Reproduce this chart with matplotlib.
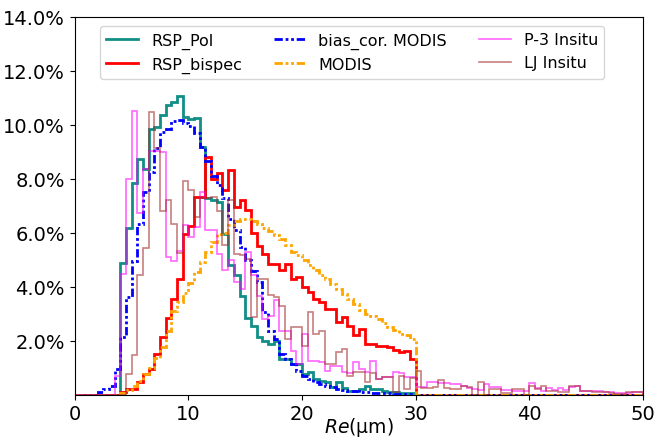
import numpy as np
import matplotlib
matplotlib.use("Agg")
import matplotlib.pyplot as plt
from matplotlib.ticker import FuncFormatter

# bin edges (0.5 um bins, 0 - 50 um)
edges = np.arange(0, 50.5, 0.5)

# frequency (%) per bin, each list starts at the given Re
rsp_pol_start = 4.0
rsp_pol = [4.89, 6.19, 7.83, 8.75, 8.35, 9.85, 9.93, 10.36, 10.74, 10.86,
           11.08, 10.28, 10.22, 10.24, 9.19, 7.27, 7.2, 7.14, 5.97, 4.79,
           4.44, 3.64, 2.85, 2.56, 2.13, 2.0, 1.88, 2.0, 1.32, 1.32,
           1.13, 1.13, 0.75, 0.82, 0.58, 0.51, 0.45, 0.27, 0.48, 0.24,
           0.14, 0.14, 0.2, 0.33, 0.2, 0.2, 0.12, 0.1, 0.08, 0.06,
           0.05, 0.05]

rsp_bispec_start = 4.0
rsp_bispec = [0.1, 0.2, 0.2, 0.45, 0.76, 0.95, 1.5, 2.15, 2.85, 3.55,
              4.3, 5.97, 6.25, 7.33, 7.33, 8.79, 8.01, 8.2, 7.6, 8.32,
              6.96, 7.2, 6.85, 6.0, 5.5, 5.2, 4.85, 4.85, 4.6, 4.85,
              4.29, 4.36, 3.98, 3.8, 3.55, 3.43, 3.18, 3.18, 2.68, 2.87,
              2.56, 2.19, 2.43, 1.88, 1.88, 1.79, 1.81, 1.75, 1.67, 1.57,
              1.6, 1.32]

bias_modis_start = 2.0
bias_modis = [0.08, 0.2, 0.33, 0.95, 2.13, 3.61, 4.94, 6.31, 7.52, 8.26,
              9.13, 9.75, 9.85, 10.14, 10.18, 10.08, 9.95, 9.68, 9.17, 8.67,
              8.1, 7.77, 7.3, 6.52, 6.1, 5.47, 5.0, 4.57, 4.17, 3.06,
              2.34, 2.06, 1.5, 1.32, 1.13, 0.88, 0.7, 0.58, 0.45, 0.38,
              0.33, 0.27, 0.22, 0.18, 0.14, 0.12, 0.1, 0.08, 0.07, 0.06,
              0.05, 0.04, 0.03, 0.03, 0.02, 0.02]

modis_start = 4.0
modis = [0.05, 0.15, 0.3, 0.5, 0.75, 1.0, 1.35, 1.75, 2.35, 3.1,
         3.45, 3.77, 4.15, 4.55, 4.9, 5.3, 5.65, 5.95, 6.0, 6.28,
         6.42, 6.52, 6.5, 6.45, 6.33, 6.18, 6.05, 5.92, 5.78, 5.55,
         5.3, 5.18, 5.0, 4.82, 4.6, 4.42, 4.29, 4.11, 3.92, 3.73,
         3.55, 3.36, 3.12, 2.99, 2.93, 2.8, 2.65, 2.5, 2.38, 2.25,
         2.19, 2.06]

p3_start = 3.5
p3_insitu = [0.7, 4.48, 8.01, 10.53, 6.74, 8.35, 9.03, 9.03, 9.0, 5.1,
             4.94, 5.31, 6.28, 5.84, 6.22, 7.52, 6.09, 6.09, 5.2, 4.6,
             5.0, 4.17, 3.92, 5.29, 4.42, 3.67, 2.81, 2.9, 3.49, 2.37,
             2.37, 1.63, 1.13, 2.25, 1.26, 1.26, 1.2, 0.88, 1.07, 1.07,
             0.82, 0.8, 1.2, 0.95, 0.85, 1.26, 0.58, 0.64, 0.64, 0.82,
             0.8, 0.64, 0.64, 0.27, 0.27, 0.45, 0.45, 0.42, 0.42, 0.4,
             0.4, 0.33, 0.23, 0.2, 0.18, 0.39, 0.27, 0.27, 0.18, 0.18,
             0.12, 0.12, 0.14, 0.42, 0.23, 0.14, 0.23, 0.18, 0.23, 0.18,
             0.27, 0.33, 0.14, 0.14, 0.12, 0.12, 0.1, 0.08, 0.05, 0.05,
             0.05, 0.08, 0.08]

lj_start = 4.5
lj_insitu = [0.76, 1.47, 4.42, 5.43, 10.49, 9.13, 6.8, 7.22, 6.34, 5.25,
             7.9, 7.6, 6.59, 7.3, 7.3, 7.33, 6.8, 5.53, 7.2, 5.2,
             5.16, 5.04, 2.87, 4.29, 4.29, 3.7, 3.61, 3.3, 2.06, 2.5,
             2.5, 1.81, 3.06, 2.25, 2.37, 1.13, 1.13, 1.57, 1.69, 0.7,
             0.85, 0.85, 0.45, 0.8, 0.58, 0.65, 0.65, 0.08, 0.7, 0.2,
             0.6, 0.88, 0.23, 0.23, 0.27, 0.55, 0.23, 0.2, 0.2, 0.33,
             0.28, 0.0, 0.45, 0.0, 0.2, 0.2, 0.05, 0.05, 0.2, 0.2,
             0.0, 0.3, 0.2, 0.33, 0.14, 0.14, 0.1, 0.1, 0.33, 0.33,
             0.14, 0.14, 0.1, 0.08, 0.08, 0.05, 0.02, 0.02, 0.1, 0.1,
             0.1]


def full(start, vals):
    # pad a series with zeros so it covers all bins
    out = np.zeros(len(edges) - 1)
    i0 = int(round(start / 0.5))
    out[i0:i0 + len(vals)] = vals
    return out


fig = plt.figure(figsize=(6.56, 4.39), dpi=100)
ax = fig.add_axes([0.114, 0.099, 0.866, 0.860])

dashdotdot = (0, (3, 1, 1, 1, 1, 1))
ax.stairs(full(rsp_pol_start, rsp_pol), edges, color='#0f8f85', lw=2, label='RSP_Pol')
ax.stairs(full(rsp_bispec_start, rsp_bispec), edges, color='red', lw=2, label='RSP_bispec')
ax.stairs(full(bias_modis_start, bias_modis), edges, color='blue', lw=2,
          linestyle=dashdotdot, label='bias_cor. MODIS')
ax.stairs(full(modis_start, modis), edges, color='orange', lw=2,
          linestyle=dashdotdot, label='MODIS')
ax.stairs(full(p3_start, p3_insitu), edges, color='magenta', lw=1.2, alpha=0.6,
          label='P-3 Insitu')
ax.stairs(full(lj_start, lj_insitu), edges, color='brown', lw=1.2, alpha=0.6,
          label='LJ Insitu')

ax.set_xlim(0, 50)
ax.set_ylim(0, 14)
ax.set_xticks([0, 10, 20, 30, 40, 50])
ax.set_yticks([2, 4, 6, 8, 10, 12, 14])
ax.yaxis.set_major_formatter(FuncFormatter(lambda v, p: '%.1f%%' % v))
ax.tick_params(labelsize=14)
ax.set_xlabel(r'$Re$(μm)', fontsize=13.5, labelpad=-6)

ax.legend(ncol=3, fontsize=11.5, loc='upper left', bbox_to_anchor=(0.044, 0.976),
          borderaxespad=0)

fig.savefig('out.png', dpi=100)
